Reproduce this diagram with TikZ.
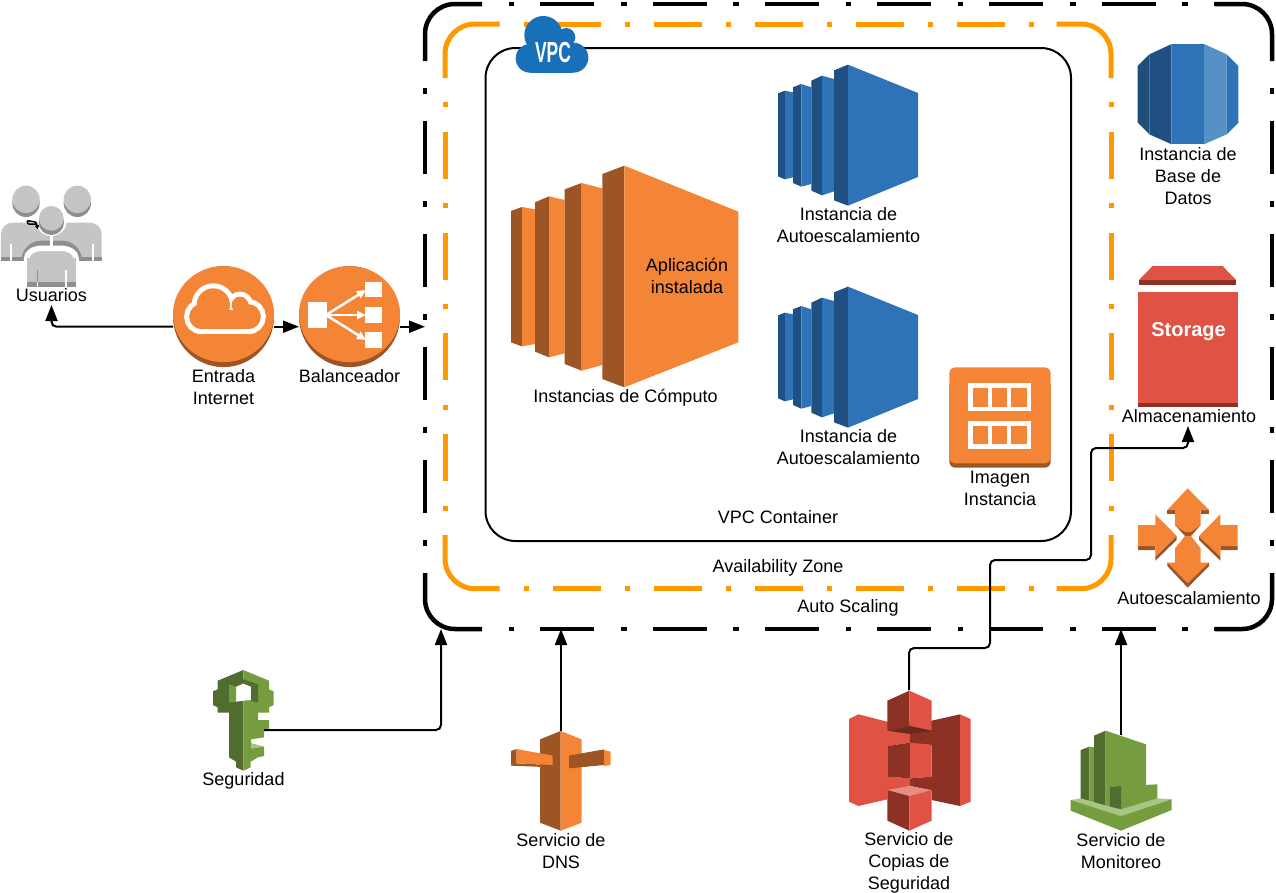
\documentclass[tikz,border=0pt]{standalone}
\usepackage{fontspec}
\usepackage{graphicx}
\setmainfont{Liberation Sans}
\usetikzlibrary{arrows.meta}
\definecolor{awsor}{HTML}{F58536}
\definecolor{awsord}{HTML}{9D5525}
\definecolor{awsgr}{HTML}{759C3E}
\definecolor{awsgrd}{HTML}{506C2E}
\definecolor{awsgrl}{HTML}{A7C584}
\definecolor{awsrd}{HTML}{E05243}
\definecolor{awsrdd}{HTML}{8C3123}
\definecolor{awsrdx}{HTML}{6B2A1E}
\definecolor{awsrdl}{HTML}{E98B80}
\definecolor{awsbl}{HTML}{2E73B8}
\definecolor{awsbld}{HTML}{205081}
\definecolor{awsblm}{HTML}{5590C7}
\definecolor{awsblx}{HTML}{1E4E79}
\definecolor{vpcbl}{HTML}{1871B8}
\definecolor{usrl}{HTML}{C3C5C7}
\definecolor{usrd}{HTML}{8E8F91}
\definecolor{zoneor}{HTML}{FF9900}
\tikzset{
  zm/.style={shift={#1},x=.33333pt,y=-.33333pt},
  lbl/.style={font=\fontsize{18}{22}\selectfont,align=center,inner sep=0pt},
  iconbox/.style={rectangle,inner sep=0pt,outer sep=0pt,minimum width=#1},
  conn/.style={draw=black,line width=2pt,-{Triangle[length=16pt,width=12pt]}},
  blackedge/.style={draw=black,line width=4.5pt,rounded corners=30pt},
  blackh/.style={draw=black,line width=4.5pt,dash pattern=on 54pt off 26.75pt on 5.5pt off 26pt,dash phase=54pt},
  blackv/.style={draw=black,line width=4.5pt,dash pattern=on 53.5pt off 27pt on 5.5pt off 27pt,dash phase=53.5pt},
  zoneedge/.style={draw=zoneor,line width=5pt,rounded corners=30pt},
  zoneh/.style={draw=zoneor,line width=5pt,dash pattern=on 48pt off 24pt on 5pt off 24pt,dash phase=48pt},
  zonev/.style={draw=zoneor,line width=5pt,dash pattern=on 47pt off 24.4pt on 5pt off 24.4pt,dash phase=47pt},
}
% auto-scaling instance icon, placed by the offset of its 3x drawing grid
\newcommand{\asgicon}[2]{%
  \begin{scope}[zm={(#1,#2)}]
    \fill[awsbld] (54,106) -- (75,98) -- (75,364) -- (54,355) -- cycle;
    \fill[awsbl] (75,98) -- (99,103) -- (99,358) -- (75,364) -- cycle;
    \fill[awsbld] (99,88) -- (124,78) -- (124,386) -- (99,375) -- cycle;
    \fill[awsbl] (124,78) -- (154,88) -- (154,378) -- (124,386) -- cycle;
    \fill[awsbld] (154,68) -- (186,53) -- (186,412) -- (154,398) -- cycle;
    \fill[awsbl] (186,53) -- (222,63) -- (222,400) -- (186,412) -- cycle;
    \fill[awsbld] (222,37) -- (264,20) -- (264,443) -- (222,427) -- cycle;
    \fill[awsbl] (264,20) -- (474,105) -- (474,357) -- (264,443) -- cycle;
  \end{scope}}
\begin{document}
\begin{tikzpicture}[x=1pt,y=-1pt]
\useasboundingbox (0,0) rectangle (1276,892);

% ---------- containers ----------
\node[iconbox=847pt,minimum height=625pt] (frame) at (848.5,316.5) {};
% Auto Scaling frame
\draw[blackedge] (482,4) -- (425,4) -- (425,61);
\draw[blackedge] (1215,4) -- (1272,4) -- (1272,61);
\draw[blackedge] (482,629) -- (425,629) -- (425,573);
\draw[blackedge] (1215,629) -- (1272,629) -- (1272,573);
\draw[blackh] (482,4) -- (1215,4);
\draw[blackh] (482,629) -- (1215,629);
\draw[blackv] (425,61) -- (425,573);
\draw[blackv] (1272,61) -- (1272,573);
% Availability Zone frame
\draw[zoneedge] (499.5,24) -- (445,24) -- (445,78);
\draw[zoneedge] (1056.5,24) -- (1111,24) -- (1111,78);
\draw[zoneedge] (499.5,588.7) -- (445,588.7) -- (445,535);
\draw[zoneedge] (1056.5,588.7) -- (1111,588.7) -- (1111,535);
\draw[zoneh] (499.5,24) -- (1056.5,24);
\draw[zoneh] (499.5,588.7) -- (1056.5,588.7);
\draw[zonev] (445,78) -- (445,535);
\draw[zonev] (1111,78) -- (1111,535);
% VPC container
\draw[black,line width=2pt,rounded corners=30pt] (485.5,48) rectangle (1071,541);
% VPC cloud
\begin{scope}[zm={(420,0)}]
  \fill[vpcbl] (330,175) circle[radius=43];
  \fill[vpcbl] (460,173) circle[radius=45];
  \fill[vpcbl] (370,105) circle[radius=57];
  \fill[vpcbl] (438,112) circle[radius=28];
  \fill[vpcbl] (330,130) rectangle (460,218);
\end{scope}
\node[font=\fontsize{29}{29}\selectfont\bfseries,text=white,inner sep=0pt] (vpclabel) at (553,53) {\scalebox{0.6}[1]{VPC}};

% ---------- users ----------
\node[iconbox=101pt,minimum height=119pt] (users) at (51.5,245.5) {};
\begin{scope}[zm={(0,170)}]
  \fill[usrl] (3,272) -- (3,195) .. controls (3,170) and (20,158) .. (40,158) -- (268,158)
     .. controls (288,158) and (305,170) .. (305,195) -- (305,272) -- cycle;
  \fill[usrd] (3,262) rectangle (305,272);
  \fill[white] (29,222) rectangle (36,272);
  \fill[white] (275,222) rectangle (282,272);
  \fill[usrd] (78,100) circle[radius=41];
  \fill[usrd] (232,100) circle[radius=41];
  \fill[usrl] (78,88) circle[radius=41];
  \fill[usrl] (232,88) circle[radius=41];
  \fill[usrd] (65,262) .. controls (70,232) and (95,212) .. (125,212) -- (185,212)
     .. controls (215,212) and (240,232) .. (245,262) -- cycle;
  \draw[white,line width=5.5pt,fill=usrl] (80,350) -- (80,265) .. controls (80,248) and (100,235) .. (125,235)
     -- (183,235) .. controls (208,235) and (228,248) .. (228,265) -- (228,350);
  \fill[usrl] (80,265) rectangle (228,350);
  \fill[usrd] (80,337) rectangle (228,350);
  \fill[white] (196,300) rectangle (201,350);
  \fill[usrd] (110,300) rectangle (114,337);
  \fill[white] (110,337) rectangle (114,350);
  \draw[white,line width=2.7pt] (154,190) -- (154,235);
  \fill[white] (154,152) circle[radius=46];
  \fill[usrd] (154,157) circle[radius=38];
  \fill[usrl] (154,145) circle[radius=37];
  \draw[black,line width=1.5pt,rounded corners=1pt,-{Triangle[length=4pt,width=4pt]}]
     (112,163) -- (84,162) -- (81,152) -- (108,156) -- (114,178);
\end{scope}

% ---------- internet gateway ----------
\node[iconbox=101pt,minimum height=101pt] (entrada) at (223.5,316.5) {};
\fill[awsord] (223.5,316.6) circle[radius=50.5];
\fill[awsor] (223.5,314.2) ellipse[x radius=50.5,y radius=48];
\begin{scope}[zm={(0,170)}]
  \draw[white,fill=white,line width=10pt] (605,440) circle[radius=37.5];
  \draw[white,fill=white,line width=10pt] (745,440) circle[radius=37.5];
  \draw[white,fill=white,line width=10pt] (640,405) circle[radius=50];
  \draw[white,fill=white,line width=10pt] (720,405) circle[radius=25];
  \draw[white,fill=white,line width=10pt] (605,420) rectangle (745,477.5);
  \fill[awsor] (605,440) circle[radius=37.5];
  \fill[awsor] (745,440) circle[radius=37.5];
  \fill[awsor] (640,405) circle[radius=50];
  \fill[awsor] (720,405) circle[radius=25];
  \fill[awsor] (605,420) rectangle (745,477.5);
\end{scope}

% ---------- load balancer ----------
\node[iconbox=101pt,minimum height=101pt] (balance) at (349.5,316.5) {};
\fill[awsord] (349.5,316.6) circle[radius=50.5];
\fill[awsor] (349.5,314.2) ellipse[x radius=50.5,y radius=48];
\fill[white] (308,302) rectangle (327,328);
\fill[white] (365,282) rectangle (382,297);
\fill[white] (365,307) rectangle (382,323);
\fill[white] (365,332) rectangle (382,348);
\draw[white,line width=2.5pt,-{Triangle[length=9pt,width=8pt]}] (326,315) -- (366,290);
\draw[white,line width=2.5pt,-{Triangle[length=9pt,width=8pt]}] (326,315) -- (366,315);
\draw[white,line width=2.5pt,-{Triangle[length=9pt,width=8pt]}] (326,315) -- (366,340);

% ---------- compute instances ----------
\begin{scope}[zm={(490,150)}]
  \fill[awsord] (63,183) -- (96,171) -- (96,589) -- (63,577) -- cycle;
  \fill[awsor] (96,171) -- (135,178) -- (135,582) -- (96,589) -- cycle;
  \fill[awsord] (135,157) -- (177,139) -- (177,622) -- (135,605) -- cycle;
  \fill[awsor] (177,139) -- (224,150) -- (224,610) -- (177,622) -- cycle;
  \fill[awsord] (224,118) -- (275,99) -- (275,662) -- (224,642) -- cycle;
  \fill[awsor] (275,99) -- (337,115) -- (337,645) -- (275,662) -- cycle;
  \fill[awsord] (337,72) -- (403,47) -- (403,712) -- (337,687) -- cycle;
  \fill[awsor] (403,47) -- (745,185) -- (745,577) -- (403,712) -- cycle;
\end{scope}

% ---------- autoscaling instances ----------
\asgicon{760}{58}
\asgicon{760}{280}

% ---------- machine image ----------
\begin{scope}[zm={(760,280)}]
  \fill[awsord,rounded corners=6pt] (568,300) rectangle (872,563);
  \fill[awsor,rounded corners=6pt] (568,262) rectangle (872,550);
  \fill[white] (624,310) rectangle (814,393);
  \fill[white] (624,423) rectangle (814,507);
  \fill[awsor] (638,324) rectangle (685,380);
  \fill[awsor] (696,324) rectangle (742,380);
  \fill[awsor] (752,324) rectangle (801,380);
  \fill[awsor] (638,437) rectangle (685,493);
  \fill[awsor] (696,437) rectangle (742,493);
  \fill[awsor] (752,437) rectangle (801,493);
\end{scope}

% ---------- database ----------
\begin{scope}[zm={(1100,20)}]
  \fill[awsblx] (113,138) -- (148,103) -- (148,343) -- (113,308) -- cycle;
  \fill[awsbld] (148,103) -- (215,72) -- (215,373) -- (148,343) -- cycle;
  \fill[awsbl] (215,72) rectangle (312,373);
  \fill[awsblm] (312,72) -- (380,103) -- (380,343) -- (312,373) -- cycle;
  \fill[awsbl] (380,103) -- (415,138) -- (415,308) -- (380,343) -- cycle;
\end{scope}

% ---------- storage ----------
\node[iconbox=100pt,minimum height=160pt] (storage) at (1188,346) {};
\begin{scope}[zm={(1080,250)}]
  \fill[awsrd] (218,48) -- (428,48) -- (468,90) -- (177,90) -- cycle;
  \fill[awsrdd] (177,90) rectangle (468,106);
  \fill[awsrd] (174,127) rectangle (473,458);
  \fill[awsrdd] (174,458) rectangle (473,472);
\end{scope}
\node[font=\fontsize{20}{22}\selectfont\bfseries,text=white,inner sep=0pt] (storagetxt) at (1188.5,332) {Storage};

% ---------- autoscaling arrows ----------
\begin{scope}[zm={(1080,250)}]
  \fill[awsord] (262,780) rectangle (285,793);
  \fill[awsord] (362,780) rectangle (387,793);
  \fill[awsord] (285,825) -- (315,858) -- (333,858) -- (362,825) -- cycle;
  \fill[awsor] (323,715) -- (387,780) -- (362,780) -- (362,825) -- (333,846) -- (315,846) -- (285,825) -- (285,780) -- (262,780) -- cycle;
  \fill[awsor] (315,858) -- (333,858) -- (362,895) -- (362,938) -- (387,938) -- (323,1000) -- (262,938) -- (285,938) -- (285,895) -- cycle;
  \fill[awsord] (262,938) -- (323,1000) -- (387,938) -- (387,948) -- (323,1013) -- (262,948) -- cycle;
  \fill[awsord] (174,888) -- (226,888) -- (226,920) -- (290,858) -- (290,870) -- (226,932) -- (226,900) -- (174,900) -- cycle;
  \fill[awsor] (174,825) -- (226,825) -- (226,793) -- (290,858) -- (226,920) -- (226,888) -- (174,888) -- cycle;
  \fill[awsord] (473,888) -- (421,888) -- (421,920) -- (357,858) -- (357,870) -- (421,932) -- (421,900) -- (473,900) -- cycle;
  \fill[awsor] (473,825) -- (421,825) -- (421,793) -- (357,858) -- (421,920) -- (421,888) -- (473,888) -- cycle;
\end{scope}

% ---------- key ----------
\node[iconbox=51pt,minimum height=101pt] (key) at (238.5,720.5) {};
\begin{scope}[zm={(180,650)}]
  \fill[awsgrd] (190,60) -- (113,92) -- (113,118) -- (99,124) -- (99,165) -- (113,172) -- (113,188) -- (147,188)
     -- (147,322) -- (168,335) -- (168,352) -- (190,362) -- cycle;
  \fill[awsgr] (190,60) -- (267,92) -- (267,118) -- (281,124) -- (281,165) -- (267,172) -- (267,188) -- (234,188)
     -- (234,210) -- (267,210) -- (267,238) -- (252,240) -- (252,262) -- (213,268) -- (213,280) -- (252,290)
     -- (252,318) -- (234,322) -- (212,335) -- (212,352) -- (190,362) -- cycle;
  \fill[awsgrl] (213,280) -- (252,290) -- (213,296) -- cycle;
  \fill[white] (168,110) -- (190,100) -- (213,110) -- (213,150) -- (190,152) -- (168,155) -- cycle;
  \fill[awsgrd] (147,103) -- (190,88) -- (234,103) -- (213,110) -- (190,100) -- (168,110) -- cycle;
  \fill[awsgr] (147,103) -- (168,110) -- (168,155) -- (147,158) -- cycle;
  \fill[awsgrd] (213,110) -- (234,103) -- (234,158) -- (213,152) -- cycle;
\end{scope}

% ---------- DNS ----------
\node[iconbox=100pt,minimum height=100pt] (dns) at (561,781) {};
\begin{scope}[zm={(180,650)}]
  \fill[awsord] (1080,268) -- (1142,243) -- (1142,542) -- (1080,518) -- cycle;
  \fill[awsor] (1142,243) -- (1205,268) -- (1205,518) -- (1142,542) -- cycle;
  \fill[awsord] (993,303) -- (1010,297) -- (1010,340) -- (1118,345) -- (1118,352) -- (993,347) -- cycle;
  \fill[awsor] (1010,297) -- (1118,317) -- (1118,345) -- (1010,340) -- cycle;
  \fill[awsord] (1167,317) -- (1272,298) -- (1272,345) -- (1167,355) -- cycle;
  \fill[awsor] (1272,300) -- (1292,305) -- (1292,345) -- (1272,348) -- cycle;
\end{scope}

% ---------- S3 ----------
\node[iconbox=122pt,minimum height=141pt] (s3) at (909,760.5) {};
\begin{scope}[zm={(830,670)}]
  \fill[awsrd] (57,147) -- (85,133) -- (172,155) -- (240,155) -- (240,218) -- (172,228) -- (172,320)
     -- (240,325) -- (240,348) -- (172,362) -- (172,388) -- (85,408) -- (57,395) -- cycle;
  \fill[awsrdd] (240,155) -- (305,152) -- (390,133) -- (390,408) -- (305,390) -- (305,362) -- (240,348) -- (240,325) -- (305,320)
     -- (305,228) -- (240,218) -- cycle;
  \fill[awsrd] (390,133) -- (422,147) -- (422,395) -- (390,408) -- cycle;
  \fill[awsrdd] (172,92) -- (238,62) -- (238,168) -- (172,182) -- cycle;
  \fill[awsrd] (238,62) -- (305,92) -- (305,182) -- (238,168) -- cycle;
  \fill[awsrdx] (172,182) -- (238,168) -- (305,182) -- (240,192) -- cycle;
  \fill[awsrdd] (172,228) -- (240,218) -- (240,325) -- (172,320) -- cycle;
  \fill[awsrd] (240,218) -- (305,224) -- (305,320) -- (240,325) -- cycle;
  \fill[awsrdl] (172,360) -- (240,348) -- (305,360) -- (238,378) -- cycle;
  \fill[awsrdd] (172,360) -- (238,378) -- (238,482) -- (172,452) -- cycle;
  \fill[awsrd] (238,378) -- (305,360) -- (305,452) -- (238,482) -- cycle;
\end{scope}

% ---------- CloudWatch ----------
\node[iconbox=100pt,minimum height=95pt] (cw) at (1121,782.5) {};
\begin{scope}[zm={(830,670)}]
  \fill[awsgrd] (752,240) -- (778,230) -- (778,398) -- (752,390) -- cycle;
  \fill[awsgr] (778,230) -- (792,232) -- (792,400) -- (778,398) -- cycle;
  \fill[awsgrd] (792,197) -- (827,182) -- (827,412) -- (792,402) -- cycle;
  \fill[awsgr] (827,182) -- (948,223) -- (948,410) -- (873,425) -- (827,412) -- cycle;
  \fill[awsgr] (873,348) -- (982,343) -- (982,390) -- (873,425) -- cycle;
  \fill[awsgrd] (840,352) -- (873,348) -- (873,422) -- (840,414) -- cycle;
  \fill[awsgrl] (722,390) -- (752,385) -- (840,410) -- (873,418) -- (982,385) -- (1025,388) -- (873,438) -- cycle;
  \fill[awsgr] (722,390) -- (873,438) -- (873,482) -- (722,422) -- cycle;
  \fill[awsgr] (873,438) -- (1025,388) -- (1025,420) -- (873,482) -- cycle;
\end{scope}

% ---------- labels ----------
\node[lbl] (lusuarios) at (51.5,295) {Usuarios};
\node[lbl] (lentrada) at (223.5,387) {Entrada\\Internet};
\node[lbl] (lbalance) at (349.5,376) {Balanceador};
\node[lbl] (lcomputo) at (625.5,398) {Instancias de Cómputo};
\node[lbl] (lapp) at (687,276) {Aplicación\\instalada};
\node[lbl] (lasg1) at (848.5,225) {Instancia de\\Autoescalamiento};
\node[lbl] (lasg2) at (848.5,447) {Instancia de\\Autoescalamiento};
\node[lbl] (limagen) at (1000,488) {Imagen\\Instancia};
\node[lbl] (lvpc) at (778,517) {VPC Container};
\node[lbl] (lzone) at (778,568) {Availability Zone};
\node[lbl] (lscaling) at (848,608) {Auto Scaling};
\node[lbl] (ldb) at (1188,176) {Instancia de\\Base de\\Datos};
\node[lbl] (lalma) at (1189,416) {Almacenamiento};
\node[lbl] (lauto) at (1189,598) {Autoescalamiento};
\node[lbl] (lseg) at (243.5,781) {Seguridad};
\node[lbl] (ldns) at (561,851.5) {Servicio de\\DNS};
\node[lbl] (lcopias) at (909,863) {Servicio de\\Copias de\\Seguridad};
\node[lbl] (lmon) at (1121,851.5) {Servicio de\\Monitoreo};

% ---------- connectors ----------
\coordinate (keyin) at (441,0 |- frame.south);
\draw[conn,rounded corners=5pt] ([yshift=-10.2pt]entrada.west) -| (users.south);
\draw[conn] ([yshift=-10.2pt]entrada.east) -- ([yshift=-10.2pt]balance.west);
\draw[conn] ([yshift=-10.2pt]balance.east) -- ([yshift=-10.2pt]frame.west);
\draw[conn,rounded corners=5pt] ([yshift=-9.5pt]key.east) -| (keyin);
\draw[conn] (dns.north) -- (dns.north |- frame.south);
\draw[conn] (cw.north) -- (cw.north |- frame.south);
\draw[conn,rounded corners=5pt] (s3.north) |- (990,648) |- (1091,560) |- (1188,448) -- (storage.south);
\end{tikzpicture}
\end{document}
